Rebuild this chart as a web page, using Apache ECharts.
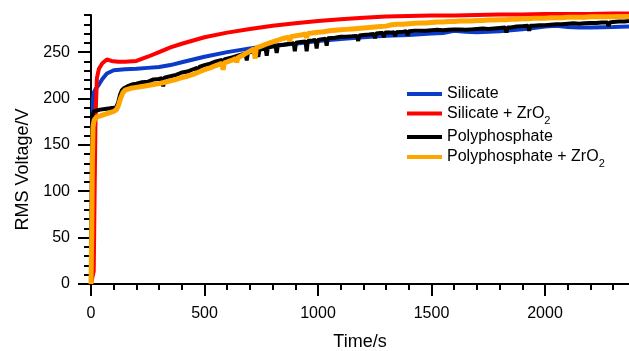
<!DOCTYPE html>
<html>
<head>
<meta charset="utf-8">
<script src="https://cdn.jsdelivr.net/npm/echarts@6/dist/echarts.min.js"></script>
<style>
  html, body { margin: 0; padding: 0; background: #fff; }
  #chart { width: 629px; height: 351px; }
</style>
</head>
<body>
<div id="chart"></div>
<script>
// 数据
const silicateT = [0, 3, 6, 9, 12, 20, 35, 50, 70, 100, 150, 200, 250, 300, 350, 400, 450, 500, 600, 700, 800, 900, 1000, 1100, 1200, 1300, 1400, 1500, 1550, 1600, 1650, 1700, 1800, 1850, 1900, 1950, 2000, 2050, 2100, 2150, 2200, 2300, 2370]
const silicateV = [0, 70, 160, 200, 206, 210, 215, 221, 227, 230.5, 231.5, 232, 233, 234, 236, 239, 242, 245, 250, 254, 257, 259, 262, 264, 266, 267.5, 268.5, 270, 270.5, 273, 272, 271.5, 272.5, 273.5, 274.5, 276, 277.5, 278.5, 277, 276.5, 276.5, 277, 277.5]

const silicateZrT = [0, 6, 12, 16, 20, 26, 35, 50, 70, 90, 120, 150, 200, 250, 300, 350, 400, 500, 600, 700, 800, 900, 1000, 1100, 1200, 1300, 1400, 1500, 1600, 1700, 1800, 1900, 2000, 2100, 2200, 2300, 2370]
const silicateZrV = [0, 2, 14, 100, 180, 222, 232, 238, 242, 240.5, 239.5, 239.5, 240.5, 245, 250, 255, 259, 266, 271, 275, 278.5, 281, 283.5, 285.5, 287, 288.5, 289, 289.5, 289.5, 290, 290.5, 290.5, 291, 291, 291, 291.5, 291.5]

const polyT = [0, 2, 4, 6, 8, 12, 20, 40, 70, 100, 112, 120, 128, 136, 145, 160, 180,
  200, 225, 250, 275, 300, 313, 318, 323, 350, 375, 400, 425, 450, 467, 472, 477, 500, 525, 550, 577, 582, 587,
  600, 625, 650, 681, 686, 691, 700, 725, 732, 737, 742, 750, 769, 774, 779, 800, 813, 818, 823, 850, 875,
  893, 898, 903, 925, 945, 950, 955, 975, 989, 994, 999, 1020, 1033, 1038, 1043, 1075, 1100, 1125, 1150,
  1172, 1177, 1182, 1200, 1225, 1246, 1251, 1256, 1275, 1285, 1290, 1295, 1320, 1335, 1340, 1345, 1375,
  1390, 1395, 1400, 1425, 1450, 1475, 1500, 1525, 1550, 1575, 1600, 1625, 1650, 1675, 1700, 1725, 1750, 1775,
  1800, 1825, 1830, 1835, 1850, 1875, 1900, 1925, 1930, 1935, 1950, 1975, 2000, 2025, 2050, 2075, 2100, 2125,
  2150, 2175, 2200, 2225, 2250, 2275, 2280, 2285, 2300, 2325, 2350, 2370]
const polyV = [0, 60, 140, 175, 183, 186, 187.5, 188, 189, 190, 191, 196, 204, 209, 211, 213, 215,
  216, 217.5, 218, 220.5, 221, 222, 213, 222.5, 224, 225.5, 228, 229, 231.5, 233, 228, 234, 236, 237.5, 240, 241.5, 235, 242,
  243, 244.5, 246.5, 248.5, 241, 249, 250, 251.5, 252, 245, 252.5, 253, 254, 246, 255, 256, 256.5, 249, 257, 258, 259,
  259.5, 251, 260, 261, 261.5, 251, 262, 262.5, 263, 254, 263, 264, 264.5, 257, 265, 265.5, 266.5, 266.5, 267,
  267.5, 262, 268, 268.5, 269, 269.5, 265, 270, 270.5, 270.5, 266, 271, 271, 271.5, 267, 271.5, 272,
  272.5, 268, 272.5, 273, 273, 273, 273.5, 274, 273.5, 274, 274.5, 274.5, 274, 274.5, 275, 275.5, 275, 275.5,
  276, 276.5, 271, 276.5, 276.5, 277.5, 278, 278.5, 273, 278.5, 278.5, 279, 279, 279.5, 280, 280, 280.5, 281,
  280.5, 281, 281.5, 281.5, 282, 282, 278, 282, 282.5, 283, 283, 283.5]

const polyZrT = [0, 3, 6, 9, 14, 25, 50, 80, 100, 112, 120, 130, 140, 150, 175,
  200, 225, 250, 275, 300, 325, 350, 375, 400, 425, 450, 475, 500, 525, 550, 577, 582, 587, 600, 625, 637, 642, 647, 675,
  700, 718, 723, 728, 750, 775, 800, 825, 850, 870, 875, 880, 900, 925, 945, 950, 955, 975, 1000, 1025, 1050, 1075, 1100, 1125, 1150, 1175,
  1200, 1225, 1250, 1275, 1300, 1325, 1350, 1375, 1400, 1425, 1450, 1475, 1500, 1525, 1550, 1575, 1600, 1625, 1650, 1675,
  1700, 1725, 1750, 1775, 1800, 1825, 1850, 1875, 1900, 1925, 1950, 1975, 2000, 2025, 2050, 2075, 2100, 2125, 2150, 2175,
  2200, 2225, 2250, 2275, 2300, 2325, 2350, 2370]
const polyZrV = [0, 50, 130, 170, 177, 180, 182, 184.5, 186, 188, 192, 200, 206, 209, 211,
  212, 213, 214, 215, 216, 217.5, 219, 220.5, 222.5, 224, 226, 228.5, 231, 233, 235.5, 238, 231, 238.5, 239.5, 241.5, 243, 239, 244, 247.5,
  251, 253.5, 243, 254.5, 256.5, 259, 261, 263, 265, 266, 262, 266.5, 267.5, 268.5, 269.5, 265.5, 270, 270.5, 271.5, 272, 273, 273.5, 274, 274.5, 275, 275.5,
  276, 276.5, 277, 277.5, 278, 279.5, 280, 280, 280.5, 281, 281.5, 281.5, 282, 282.5, 282.5, 283, 283, 283.5, 283.5, 283.5,
  284, 284, 284.5, 284.5, 285, 285, 285.5, 285.5, 286, 286, 286.5, 286.5, 286.5, 287, 287, 287, 287.5, 287.5, 287.5, 287.5,
  288, 288, 288, 288, 288, 288.5, 288.5, 288.5]

const seriesNames = ['Silicate', 'Silicate + ZrO2', 'Polyphosphate', 'Polyphosphate + ZrO2']
const seriesColors = ['#0b3bc9', '#ff0000', '#000000', '#ffa500']

const xMajorTicks = [0, 500, 1000, 1500, 2000]
const xMinorTicks = [0, 100, 200, 300, 400, 500, 600, 700, 800, 900, 1000, 1100, 1200, 1300, 1400, 1500, 1600, 1700, 1800, 1900, 2000, 2100, 2200, 2300]
const yMajorTicks = [0, 50, 100, 150, 200, 250]

const zip = (t, v) => t.map((x, i) => [x, v[i]])
const seriesData = [zip(silicateT, silicateV), zip(silicateZrT, silicateZrV), zip(polyT, polyV), zip(polyZrT, polyZrV)]
const lineWidths = [4, 4, 4, 5]

const FONT = "'Liberation Sans', Arial, Helvetica, sans-serif"

// 图例: 下标 ZrO2
const legendText = (name) => {
  if (name.endsWith('ZrO2')) return '{n|' + name.slice(0, -1) + '}{s|2}'
  return '{n|' + name + '}'
}
const legendRich = {
  n: { fontSize: 16, lineHeight: 18, fontFamily: FONT, color: '#000', verticalAlign: 'middle' },
  s: { fontSize: 11, lineHeight: 11, padding: [14, 0, 0, 0], fontFamily: FONT, color: '#000', verticalAlign: 'middle' },
}
const legendTops = [86, 101, 129, 144.5]

const option = {
  animation: false,
  backgroundColor: '#fff',
  textStyle: { fontFamily: FONT },
  grid: { left: 91, right: 0, top: 15, bottom: 67, outerBoundsMode: 'none', containLabel: false },
  legend: seriesNames.map((name, i) => ({
    data: [name],
    left: 407,
    top: legendTops[i],
    padding: 0,
    icon: 'rect',
    itemWidth: 35,
    itemHeight: 4,
    selectedMode: false,
    formatter: legendText,
    textStyle: { rich: legendRich },
  })),
  xAxis: [
    {
      type: 'value', min: 0, max: 2370, interval: 100,
      axisLine: { show: true, onZero: false, lineStyle: { color: '#000', width: 2 } },
      axisTick: { show: true, length: 6, customValues: xMinorTicks, lineStyle: { color: '#000', width: 2 } },
      axisLabel: { show: false },
      splitLine: { show: false },
    },
    {
      type: 'value', position: 'bottom', min: 0, max: 2370, interval: 500,
      axisLine: { show: false, onZero: false },
      axisTick: { show: true, length: 12, customValues: xMajorTicks, lineStyle: { color: '#000', width: 2 } },
      axisLabel: { customValues: xMajorTicks, margin: 22, fontSize: 16, color: '#000', fontFamily: FONT, formatter: (v) => String(v) },
      splitLine: { show: false },
      name: 'Time/s', nameLocation: 'middle', nameGap: 49,
      nameTextStyle: { fontSize: 18, color: '#000', fontFamily: FONT },
    },
  ],
  yAxis: [
    {
      type: 'value', min: 0, max: 290, interval: 10,
      axisLine: { show: true, onZero: false, lineStyle: { color: '#000', width: 2 } },
      axisTick: { show: true, length: 7, lineStyle: { color: '#000', width: 2 } },
      axisLabel: { show: false },
      splitLine: { show: false },
    },
    {
      type: 'value', position: 'left', min: 0, max: 290, interval: 50,
      axisLine: { show: false, onZero: false },
      axisTick: { show: true, length: 13, customValues: yMajorTicks, lineStyle: { color: '#000', width: 2 } },
      axisLabel: { customValues: yMajorTicks, margin: 21, fontSize: 16, color: '#000', fontFamily: FONT, formatter: (v) => String(v) },
      splitLine: { show: false },
      name: 'RMS Voltage/V', nameLocation: 'middle', nameGap: 58,
      nameTextStyle: { fontSize: 18, color: '#000', fontFamily: FONT, padding: [0, 40, 0, 0] },
    },
  ],
  series: seriesNames.map((name, i) => ({
    name: name,
    type: 'line',
    xAxisIndex: 0,
    yAxisIndex: 0,
    data: seriesData[i],
    symbol: 'none',
    clip: false,
    color: seriesColors[i],
    itemStyle: { color: seriesColors[i] },
    lineStyle: { color: seriesColors[i], width: lineWidths[i] },
    emphasis: { disabled: true },
  })),
}

const chart = echarts.init(document.getElementById('chart'))
chart.setOption(option)
</script>
</body>
</html>
